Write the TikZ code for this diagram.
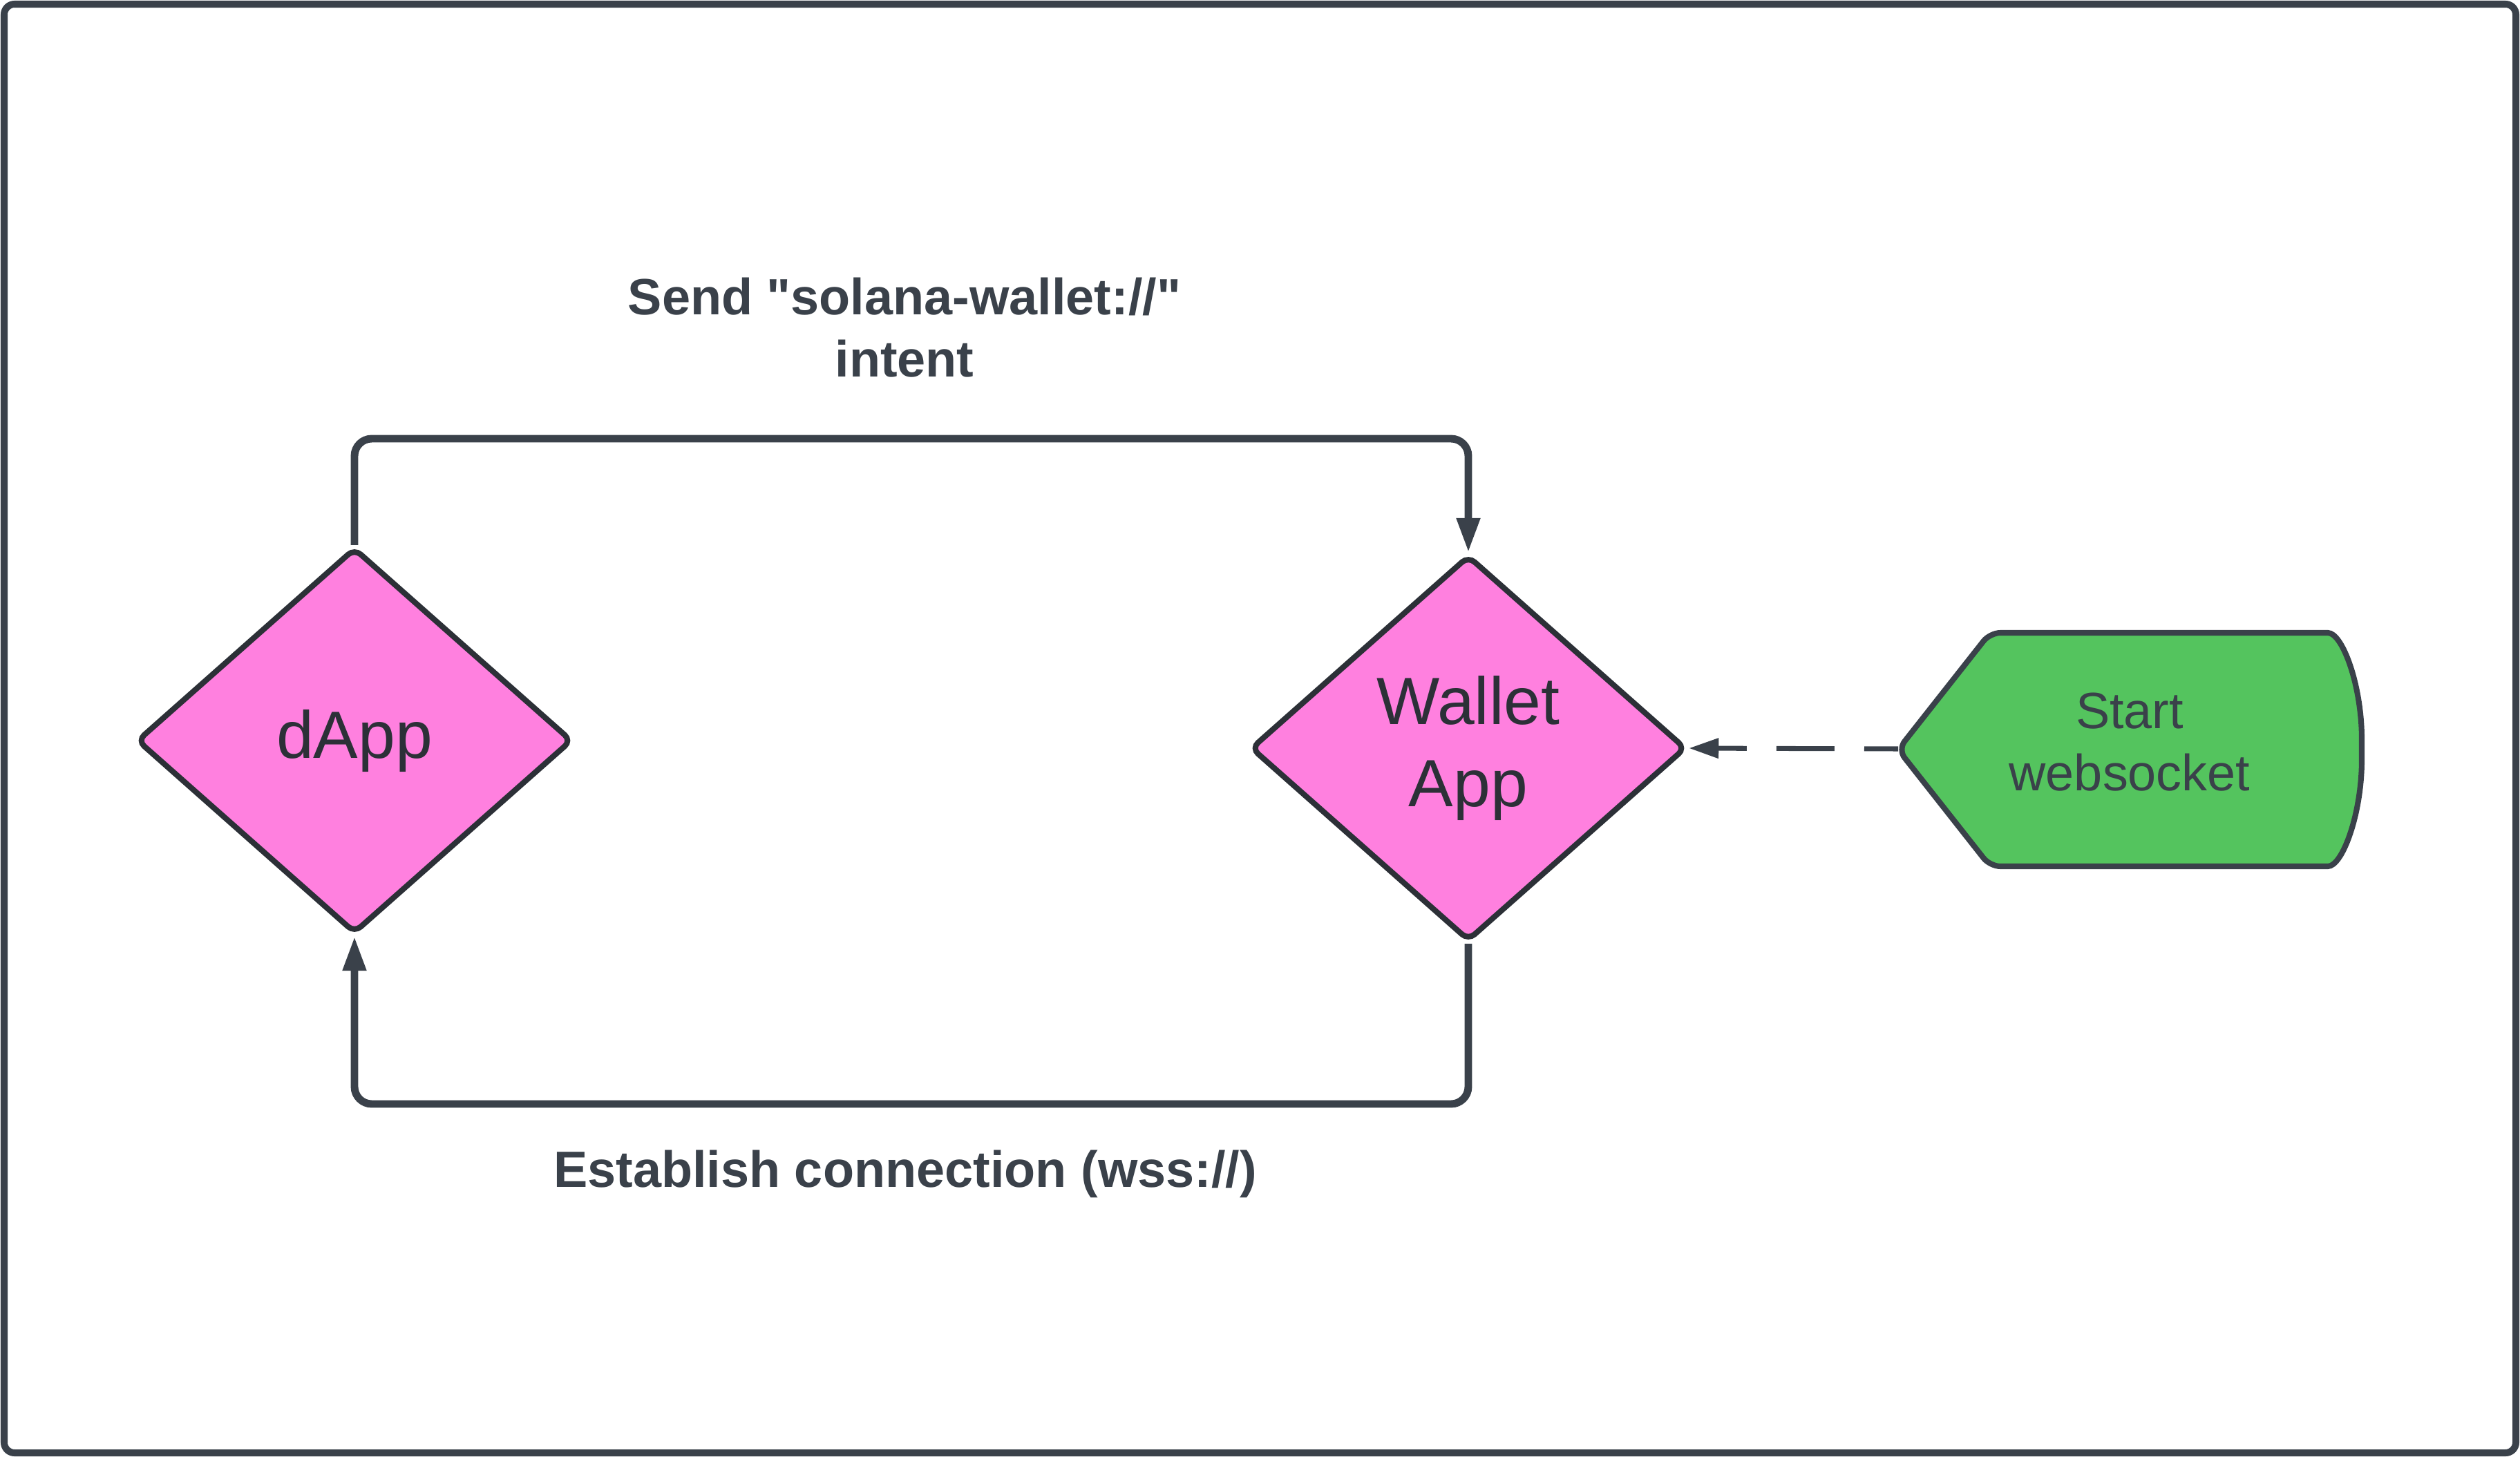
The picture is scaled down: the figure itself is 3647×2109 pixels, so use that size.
\documentclass[tikz,border=0pt]{standalone}
\usepackage{fontspec}
\setmainfont{Liberation Sans}[Ligatures=TeXOff]
\usetikzlibrary{arrows.meta,shapes.geometric}
\definecolor{ink}{HTML}{3A414A}
\definecolor{inkdark}{HTML}{2C3037}
\definecolor{pinkfill}{HTML}{FF80DF}
\definecolor{greenfill}{HTML}{54C45E}
\begin{document}
\begin{tikzpicture}[x=0.01cm,y=-0.01cm,
  decision/.style={diamond, draw=inkdark, fill=pinkfill, line width=2.3pt,
    minimum width=6.3cm, minimum height=5.58cm, inner sep=0pt,
    rounded corners=0.12cm, align=center, text=inkdark,
    font=\fontsize{27.5}{34}\selectfont},
  conn/.style={draw=ink, line width=3.1pt, rounded corners=0.25cm,
    -{Triangle[length=0.5cm,width=0.32cm]}},
  dashc/.style={draw=ink, line width=2pt, dash pattern=on 0.84cm off 0.43cm,
    dash phase=0.35cm, -{Triangle[length=0.43cm,width=0.28cm]}},
  lbl/.style={align=center, text=ink, font=\bfseries\fontsize{21}{25.6}\selectfont},
  wstext/.style={align=center, text=ink, font=\fontsize{21}{25.6}\selectfont,
    minimum width=6.71cm, minimum height=3.38cm, inner sep=0pt, outer sep=0pt},
  startshape/.style={fill=greenfill, draw=ink, line width=2.3pt, rounded corners=0.15cm}
]
\useasboundingbox (0,0) rectangle (3647,2109);
% frame
\draw[draw=ink, line width=2.85pt, rounded corners=0.15cm] (6,6) rectangle (3641,2103);

% start websocket shape
\path[startshape] (2747,1085) -- (2880,916) -- (3354,916)
  .. controls (3390,916) and (3418,992) .. (3418,1085)
  .. controls (3418,1178) and (3390,1254) .. (3354,1254)
  -- (2880,1254) -- cycle;
\node[wstext] (ws) at (3082,1081) {Start\\websocket\vphantom{p}};

% diamonds
\node[decision] (dapp) at (513,1072) {dApp};
\node[decision] (wallet) at (2125,1083) {Wallet\\App};

% routing coordinates
\coordinate (topy) at (0,635);
\coordinate (boty) at (0,1598);
\coordinate (wsw) at (2747,1084);

% connectors
\draw[conn] (dapp.north) -- (dapp.north |- topy) -- (wallet.north |- topy) -- (wallet.north);
\draw[conn] (wallet.south) -- (wallet.south |- boty) -- (dapp.south |- boty) -- (dapp.south);
\draw[dashc] (wsw) -- (wallet.east);

% labels
\node[lbl] (lsend) at (1309,474) {Send "solana-wallet://"\\intent};
\node[lbl] (lest) at (1310,1699) {Establish connection (wss://)};
\end{tikzpicture}
\end{document}
